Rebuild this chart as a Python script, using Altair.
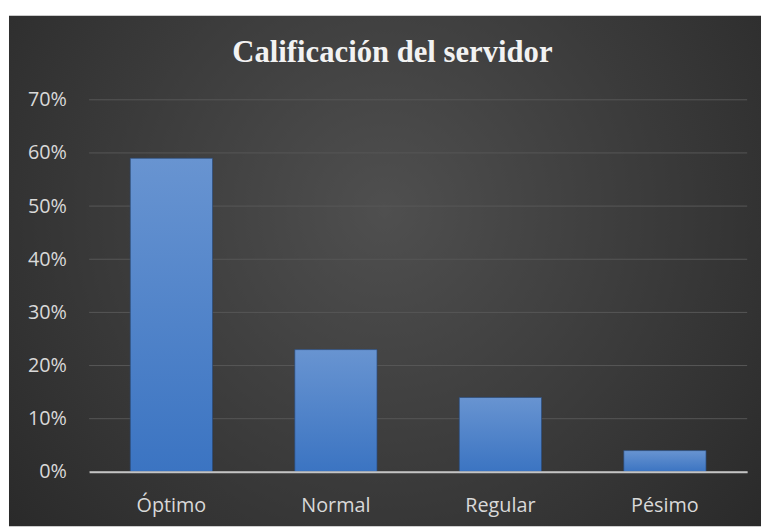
import altair as alt
import pandas as pd

categories = ["Óptimo", "Normal", "Regular", "Pésimo"]
values = [0.59, 0.23, 0.14, 0.04]
y_ticks = [0, 0.1, 0.2, 0.3, 0.4, 0.5, 0.6, 0.7]
title_text = "Calificación del servidor"

df = pd.DataFrame({"cat": categories, "val": values})
grid_df = pd.DataFrame({"tick": y_ticks})

y_scale = alt.Scale(domain=[0, 0.7], nice=False)
y_axis = alt.Axis(title=None, format=".0%", values=y_ticks, ticks=False,
                  domain=False, grid=False,
                  labelColor="#d9d9d9", labelFont="Open Sans",
                  labelFontSize=20, labelPadding=23, zindex=1)

bg = alt.Chart(pd.DataFrame({"k": [0]})).mark_rect(
    fill=alt.Gradient(
        gradient="radial",
        stops=[alt.GradientStop(color="#4f4f4f", offset=0),
               alt.GradientStop(color="#262626", offset=1)],
        x1=0.5, y1=0.42, r1=0, x2=0.5, y2=0.42, r2=0.72,
    )
).encode(
    x=alt.value(-81), x2=alt.value(679), y=alt.value(-85), y2=alt.value(431)
)

grid = alt.Chart(grid_df).mark_rule(color="#575757", strokeWidth=1).encode(
    y=alt.Y("tick:Q", scale=y_scale, axis=y_axis)
)

bars = alt.Chart(df).mark_bar(
    color=alt.Gradient(
        gradient="linear",
        stops=[alt.GradientStop(color="#6894d1", offset=0),
               alt.GradientStop(color="#3b74c2", offset=1)],
        x1=0, y1=0, x2=0, y2=1,
    ),
    stroke="#2a4a78", strokeWidth=1, strokeOpacity=0.7,
).encode(
    x=alt.X("cat:N", sort=categories,
            scale=alt.Scale(paddingInner=0.5, paddingOuter=0.25),
            axis=alt.Axis(title=None, labelAngle=0, ticks=False, domain=True,
                          domainColor="#c4c4c4", domainWidth=2, grid=False,
                          labelColor="#d9d9d9", labelFont="Open Sans",
                          labelFontSize=20, labelPadding=24, zindex=1)),
    y=alt.Y("val:Q", scale=y_scale, axis=y_axis),
)

chart = alt.layer(bg, grid, bars).properties(
    width=665, height=376,
    title=alt.TitleParams(title_text, anchor="middle", dx=-26, offset=-78,
                          baseline="alphabetic", font="Liberation Serif",
                          fontSize=31, fontWeight="bold", color="#f2f2f2"),
    autosize=alt.AutoSizeParams(type="none"),
    padding={"left": 82, "top": 90, "right": 15, "bottom": 55},
).configure(background="white").configure_view(stroke=None)

chart.save("out.html", embed_options={"renderer": "svg", "actions": False})
